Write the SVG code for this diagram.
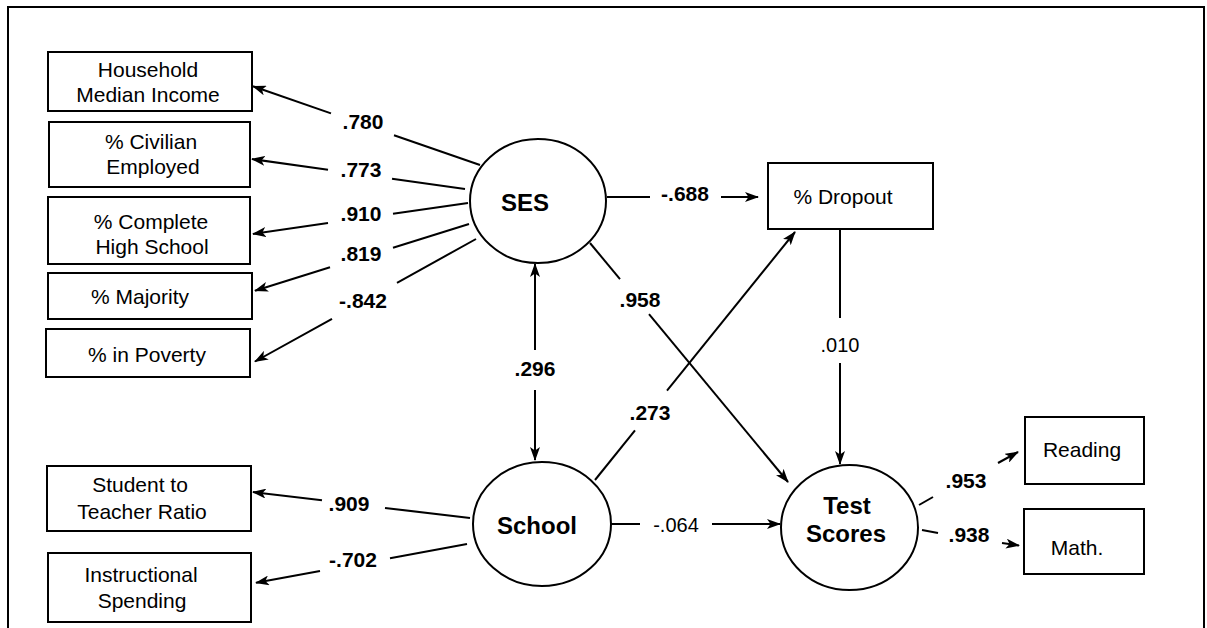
<svg xmlns="http://www.w3.org/2000/svg" width="1207" height="628" viewBox="0 0 1207 628">
<style>
  .box{fill:#fff;stroke:#000;stroke-width:2}
  .lat{fill:#fff;stroke:#000;stroke-width:2}
  .t{font-family:"Liberation Sans",Arial,Helvetica,sans-serif;font-size:21px;fill:#000;text-anchor:middle}
  .lt{font-family:"Liberation Sans",Arial,Helvetica,sans-serif;font-size:24px;font-weight:bold;fill:#000;text-anchor:middle}
  .lb{font-family:"Liberation Sans",Arial,Helvetica,sans-serif;font-size:21px;font-weight:bold;fill:#000;text-anchor:middle}
  .lr{font-family:"Liberation Sans",Arial,Helvetica,sans-serif;font-size:20px;fill:#000;text-anchor:middle}
  .c{fill:none;stroke:#000;stroke-width:2}
  .a{fill:none;stroke:#000;stroke-width:2;marker-end:url(#ah)}
</style>
<defs>
  <marker id="ah" viewBox="0 0 14 10" refX="13" refY="5" markerWidth="14" markerHeight="10" orient="auto-start-reverse" markerUnits="userSpaceOnUse">
    <path d="M0,0 L14,5 L0,10 L3.5,5 z" fill="#000"/>
  </marker>
</defs>
<rect x="0" y="0" width="1207" height="628" fill="#fff"/>
<rect x="8" y="7" width="1196" height="640" fill="none" stroke="#000" stroke-width="2"/>

<g id="connectors">
  <!-- SES indicators -->
  <line class="c" x1="480" y1="165" x2="394" y2="135.2"/>
  <line class="a" x1="331" y1="113.4" x2="253" y2="86.3"/>
  <text class="lb" x="363" y="129">.780</text>

  <line class="c" x1="465" y1="189" x2="392" y2="178.8"/>
  <line class="a" x1="328" y1="169.8" x2="252" y2="159.1"/>
  <text class="lb" x="361" y="177">.773</text>

  <line class="c" x1="468" y1="203" x2="393" y2="213.8"/>
  <line class="a" x1="328" y1="223.1" x2="253" y2="233.9"/>
  <text class="lb" x="361" y="221">.910</text>

  <line class="c" x1="469" y1="224" x2="393" y2="247.7"/>
  <line class="a" x1="330" y1="267.3" x2="255" y2="290.7"/>
  <text class="lb" x="361" y="261">.819</text>

  <line class="c" x1="476" y1="239" x2="397" y2="282.8"/>
  <line class="a" x1="332" y1="318.8" x2="255" y2="361.5"/>
  <text class="lb" x="363" y="308">-.842</text>

  <!-- School indicators -->
  <line class="c" x1="470" y1="518" x2="385" y2="507.9"/>
  <line class="a" x1="322" y1="500.3" x2="253" y2="492.1"/>
  <text class="lb" x="349" y="511">.909</text>

  <line class="c" x1="467" y1="544" x2="390" y2="558.2"/>
  <line class="a" x1="320" y1="571" x2="256" y2="582.8"/>
  <text class="lb" x="353" y="567">-.702</text>

  <!-- SES <-> School -->
  <line class="c" x1="535" y1="350" x2="535" y2="264" style="marker-end:url(#ah)"/>
  <line class="a" x1="535" y1="390" x2="535" y2="460"/>
  <text class="lb" x="535" y="376">.296</text>

  <!-- SES -> Dropout -->
  <line class="c" x1="607" y1="197" x2="650" y2="197"/>
  <line class="a" x1="721" y1="197" x2="758" y2="197"/>
  <text class="lb" x="685" y="201">-.688</text>

  <!-- SES -> Test Scores -->
  <line class="c" x1="590" y1="243" x2="620" y2="279.2"/>
  <line class="a" x1="649" y1="314.2" x2="788" y2="482"/>
  <text class="lb" x="640" y="307">.958</text>

  <!-- School -> Dropout -->
  <line class="c" x1="595" y1="480" x2="635" y2="430.4"/>
  <line class="a" x1="667" y1="390.6" x2="795" y2="232"/>
  <text class="lb" x="650" y="420">.273</text>

  <!-- Dropout -> Test Scores -->
  <line class="c" x1="840" y1="229" x2="840" y2="318"/>
  <line class="a" x1="840" y1="363" x2="840" y2="464"/>
  <text class="lr" x="840" y="352">.010</text>

  <!-- School -> Test Scores -->
  <line class="c" x1="611" y1="524" x2="640" y2="524"/>
  <line class="a" x1="712" y1="524" x2="780" y2="524"/>
  <text class="lr" x="676" y="532">-.064</text>

  <!-- Test Scores indicators -->
  <line class="c" x1="919" y1="505" x2="933" y2="497"/>
  <line class="a" x1="998" y1="463" x2="1018" y2="452"/>
  <text class="lb" x="966" y="488">.953</text>

  <line class="c" x1="922" y1="530" x2="938" y2="533"/>
  <line class="a" x1="1002" y1="543" x2="1019" y2="545.5"/>
  <text class="lb" x="969" y="542">.938</text>
</g>

<g id="household">
  <rect class="box" x="48" y="52" width="204" height="59"/>
  <text class="t" x="148" y="77">Household</text>
  <text class="t" x="148" y="102">Median Income</text>
</g>
<g id="civilian">
  <rect class="box" x="49" y="122" width="201" height="65"/>
  <text class="t" x="151" y="149">% Civilian</text>
  <text class="t" x="153" y="174">Employed</text>
</g>
<g id="complete">
  <rect class="box" x="48" y="197" width="202" height="67"/>
  <text class="t" x="151" y="229">% Complete</text>
  <text class="t" x="152" y="254">High School</text>
</g>
<g id="majority">
  <rect class="box" x="48" y="273" width="204" height="46"/>
  <text class="t" x="140" y="304">% Majority</text>
</g>
<g id="poverty">
  <rect class="box" x="46" y="329" width="204" height="48"/>
  <text class="t" x="147" y="362">% in Poverty</text>
</g>
<g id="student">
  <rect class="box" x="47" y="466" width="204" height="65"/>
  <text class="t" x="140" y="492">Student to</text>
  <text class="t" x="142" y="519">Teacher Ratio</text>
</g>
<g id="instructional">
  <rect class="box" x="48" y="553" width="203" height="69"/>
  <text class="t" x="141" y="582">Instructional</text>
  <text class="t" x="142" y="608">Spending</text>
</g>
<g id="ses">
  <ellipse class="lat" cx="538" cy="201" rx="68" ry="62"/>
  <text class="lt" x="525" y="211">SES</text>
</g>
<g id="school">
  <ellipse class="lat" cx="542" cy="524" rx="69" ry="62"/>
  <text class="lt" x="537" y="534">School</text>
</g>
<g id="dropout">
  <rect class="box" x="768" y="163" width="165" height="66"/>
  <text class="t" x="843" y="204">% Dropout</text>
</g>
<g id="testscores">
  <ellipse class="lat" cx="849.5" cy="527.5" rx="68.5" ry="62.5"/>
  <text class="lt" x="847" y="514">Test</text>
  <text class="lt" x="846" y="542">Scores</text>
</g>
<g id="reading">
  <rect class="box" x="1025" y="417" width="119" height="67"/>
  <text class="t" x="1082" y="457">Reading</text>
</g>
<g id="math">
  <rect class="box" x="1024" y="509" width="120" height="65"/>
  <text class="t" x="1077" y="555">Math.</text>
</g>
</svg>
